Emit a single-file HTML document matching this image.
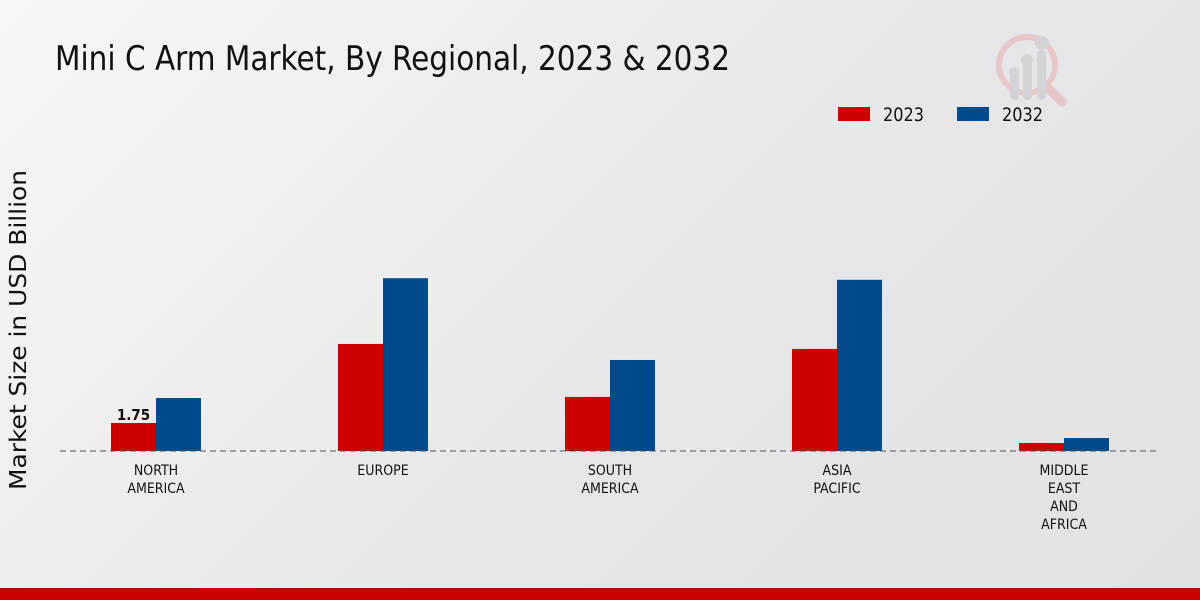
<!DOCTYPE html>
<html><head><meta charset="utf-8"><style>
body{margin:0}
#c{position:relative;width:1200px;height:600px;overflow:hidden;background:linear-gradient(135deg,#f7f7f7 0%,#e6e6e8 60%,#e2e2e4 100%);font-family:"DejaVu Sans Condensed","Liberation Sans Narrow","Liberation Sans",sans-serif}
</style></head><body>
<div id="c">
<svg width="1200" height="600" id="svg">
<text x="55" y="70" font-size="34" fill="#111" textLength="675" lengthAdjust="spacingAndGlyphs">Mini C Arm Market, By Regional, 2023 &amp; 2032</text>
<g opacity="0.6">
<circle cx="1027" cy="65" r="28" fill="none" stroke="#e8b4b4" stroke-width="6"/>
<line x1="1047" y1="87" x2="1062" y2="102" stroke="#e8b4b4" stroke-width="9" stroke-linecap="round"/>
<rect x="1010" y="72" width="9" height="28" rx="4" fill="#c8c8cc"/><rect x="1023" y="62" width="9" height="38" rx="4" fill="#c8c8cc"/><rect x="1037" y="50" width="9" height="50" rx="4" fill="#c8c8cc"/>
<circle cx="1014" cy="72" r="5" fill="#c8c8cc"/><circle cx="1027" cy="60" r="6" fill="#c8c8cc"/><circle cx="1042" cy="43" r="7" fill="#c8c8cc"/>
</g>
<g>
<rect x="838" y="107" width="32" height="14" fill="#cc0000"/>
<text x="883" y="121" font-size="19" fill="#111" textLength="41" lengthAdjust="spacingAndGlyphs">2023</text>
<rect x="957" y="107" width="32" height="14" fill="#004a8c"/>
<text x="1002" y="121" font-size="19" fill="#111" textLength="41" lengthAdjust="spacingAndGlyphs">2032</text>
</g>
<text transform="translate(26,330) rotate(-90)" text-anchor="middle" font-size="23" fill="#111" font-family="DejaVu Sans,sans-serif" textLength="320" lengthAdjust="spacingAndGlyphs">Market Size in USD Billion</text>
<g id="bars"></g>
<line x1="60" y1="451" x2="1160" y2="451" stroke="#555" stroke-dasharray="6,4"/>
<g id="labels"></g>
<rect x="0" y="588" width="1200" height="12" fill="#cc0000"/>
</svg>
</div>
<script>
const categories=[["NORTH","AMERICA"],["EUROPE"],["SOUTH","AMERICA"],["ASIA","PACIFIC"],["MIDDLE","EAST","AND","AFRICA"]];
const values2023=[1.75,6.69,3.38,6.38,0.5];
const values2032=[3.31,10.8,5.69,10.7,0.81];
const ns="http://www.w3.org/2000/svg";
const base=451, pxPerUnit=16, x0=156, step=227, bw=45;
const y=v=>base-v*pxPerUnit;
const cx=i=>x0+i*step;
const bars=document.getElementById('bars'), labels=document.getElementById('labels');
function bar(x,v,fill,name){const r=document.createElementNS(ns,'rect');
r.setAttribute('x',x);r.setAttribute('y',y(v));r.setAttribute('width',bw);r.setAttribute('height',base-y(v));r.setAttribute('fill',fill);


bars.appendChild(r);}
categories.forEach((c,i)=>{
bar(cx(i)-bw,values2023[i],'#cc0000','bar-2023-'+i);
bar(cx(i),values2032[i],'#004a8c','bar-2032-'+i);
const t=document.createElementNS(ns,'text');t.setAttribute('text-anchor','middle');t.setAttribute('font-size','14');t.setAttribute('fill','#111');


c.forEach((s,j)=>{const ts=document.createElementNS(ns,'tspan');ts.setAttribute('x',cx(i));ts.setAttribute('y',475+j*18);ts.textContent=s;t.appendChild(ts);});
labels.appendChild(t);
});
const vl=document.createElementNS(ns,'text');vl.setAttribute('x',cx(0)-bw/2);vl.setAttribute('y',y(values2023[0])-3);vl.setAttribute('text-anchor','middle');vl.setAttribute('font-size','15');vl.setAttribute('font-weight','bold');vl.setAttribute('fill','#111');vl.textContent=values2023[0];


labels.appendChild(vl);
</script>
</body></html>
